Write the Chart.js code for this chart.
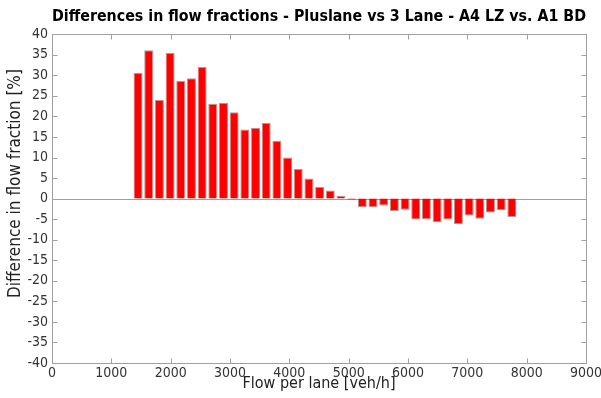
<!DOCTYPE html>
<html>
<head>
<meta charset="utf-8">
<script src="https://cdn.jsdelivr.net/npm/chart.js@4/dist/chart.umd.min.js"></script>
<style>
  html, body { margin: 0; padding: 0; background: #fff; }
  #wrap { width: 601px; height: 398px; }
</style>
</head>
<body>
<div id="wrap"><canvas id="flowChart" width="601" height="398"></canvas></div>
<script>
// flow per lane bin centres [veh/h]
const flowBins = [
  1450, 1630, 1810, 1990, 2170, 2350, 2530, 2710, 2890, 3070,
  3250, 3430, 3610, 3790, 3970, 4150, 4330, 4510, 4690, 4870,
  5050, 5230, 5410, 5590, 5770, 5950, 6130, 6310, 6490, 6670,
  6850, 7030, 7210, 7390, 7570, 7750
];
// difference in flow fraction per bin [%]
const fractionDiff = [
  30.6, 36.1, 24.0, 35.4, 28.6, 29.3, 32.0, 23.1, 23.3, 21.0,
  16.8, 17.2, 18.4, 14.1, 10.0, 7.2, 4.9, 2.85, 1.95, 0.7,
  -0.3, -2.1, -2.1, -1.7, -3.0, -2.7, -5.1, -5.0, -5.7, -5.1,
  -6.2, -4.1, -4.9, -3.4, -2.8, -4.5
];
const xTicks = [0, 1000, 2000, 3000, 4000, 5000, 6000, 7000, 8000, 9000];
const yTicks = [-40, -35, -30, -25, -20, -15, -10, -5, 0, 5, 10, 15, 20, 25, 30, 35, 40];
const yLabel = 'Difference in flow fraction [%]';

const FONT = "'DejaVu Sans Condensed', 'DejaVu Sans', sans-serif";
const FRAME = '#a0a0a0';

// box around the axes, inward tick marks, zero line and the y-axis label
const axesBox = {
  id: 'axesBox',
  beforeDatasetsDraw(chart) {
    const { ctx, chartArea: a, scales: { y } } = chart;
    ctx.save();
    ctx.strokeStyle = FRAME;
    ctx.lineWidth = 1;
    const y0 = Math.round(y.getPixelForValue(0)) + 0.5;
    ctx.beginPath();
    ctx.moveTo(a.left, y0);
    ctx.lineTo(a.right, y0);
    ctx.stroke();
    ctx.restore();
  },
  afterDatasetsDraw(chart) {
    const { ctx, chartArea: a, scales: { x, y } } = chart;
    const L = Math.round(a.left) + 0.5, R = Math.round(a.right) + 0.5;
    const T = Math.round(a.top) + 0.5, B = Math.round(a.bottom) + 0.5;
    ctx.save();
    ctx.strokeStyle = FRAME;
    ctx.lineWidth = 1;
    ctx.strokeRect(L, T, R - L, B - T);
    ctx.beginPath();
    xTicks.forEach(v => {
      const px = Math.round(x.getPixelForValue(v)) + 0.5;
      ctx.moveTo(px, B); ctx.lineTo(px, B - 5);
      ctx.moveTo(px, T); ctx.lineTo(px, T + 5);
    });
    yTicks.forEach(v => {
      const py = Math.round(y.getPixelForValue(v)) + 0.5;
      ctx.moveTo(L, py); ctx.lineTo(L + 5, py);
      ctx.moveTo(R, py); ctx.lineTo(R - 5, py);
    });
    ctx.stroke();

    // rotated axis label, sitting a little above the middle of the axis
    ctx.translate(16, (a.top + a.bottom) / 2 - 15);
    ctx.rotate(-Math.PI / 2);
    ctx.fillStyle = '#222';
    ctx.font = '17px ' + FONT;
    ctx.textAlign = 'center';
    ctx.textBaseline = 'middle';
    ctx.fillText(yLabel, 0, 0);
    ctx.restore();
  }
};

new Chart(document.getElementById('flowChart'), {
  type: 'bar',
  data: {
    datasets: [{
      data: flowBins.map((f, i) => ({ x: f, y: fractionDiff[i] })),
      backgroundColor: '#ff0000',
      borderColor: 'rgba(120, 40, 40, 0.5)',
      borderWidth: 1,
      barPercentage: 0.84,
      categoryPercentage: 1.0
    }]
  },
  options: {
    responsive: false,
    animation: false,
    layout: { padding: { left: 0, right: 15, top: 0, bottom: 0 } },
    plugins: {
      legend: { display: false },
      tooltip: { enabled: false },
      title: {
        display: true,
        fullSize: false,
        text: 'Differences in flow fractions - Pluslane vs 3 Lane - A4 LZ vs. A1 BD',
        color: '#000',
        font: { family: FONT, size: 16, weight: 'bold' },
        padding: { top: 7, bottom: 8 }
      }
    },
    scales: {
      x: {
        type: 'linear',
        min: 0,
        max: 9000,
        offset: false,
        grid: { display: false, drawTicks: false, tickLength: 0 },
        border: { display: false },
        afterBuildTicks: s => { s.ticks = xTicks.map(v => ({ value: v })); },
        afterFit: s => { s.height = 35; s.paddingLeft = 0; s.paddingRight = 0; },
        ticks: {
          color: '#333',
          padding: 2,
          maxRotation: 0,
          callback: v => String(v),
          font: { family: FONT, size: 14 }
        },
        title: {
          display: true,
          text: 'Flow per lane [veh/h]',
          color: '#222',
          padding: { top: 0, bottom: 5 },
          font: { family: FONT, size: 16 }
        }
      },
      y: {
        min: -40,
        max: 40,
        grid: { display: false, drawTicks: false, tickLength: 0 },
        border: { display: false },
        afterBuildTicks: s => { s.ticks = yTicks.map(v => ({ value: v })); },
        afterFit: s => { s.width = 52; s.paddingTop = 0; s.paddingBottom = 0; },
        ticks: {
          color: '#333',
          padding: 4,
          callback: v => String(v),
          font: { family: FONT, size: 14 }
        }
      }
    }
  },
  plugins: [axesBox]
});
</script>
</body>
</html>
